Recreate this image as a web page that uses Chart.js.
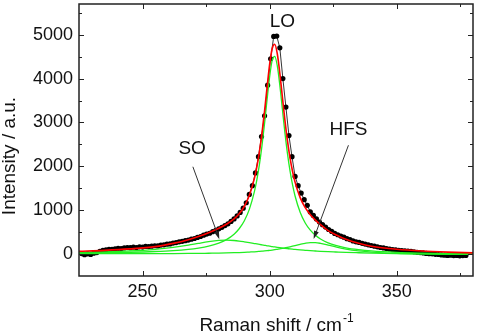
<!DOCTYPE html>
<html>
<head>
<meta charset="utf-8">
<script src="https://cdn.jsdelivr.net/npm/chart.js@4.4.1/dist/chart.umd.min.js"></script>
<style>
    html, body { margin: 0; padding: 0; background: #fff; }
    canvas { display: block; }
</style>
</head>
<body>
<canvas id="ramanChart" width="477" height="333"></canvas>
<script>
// Messpunkte (Raman-Spektrum)
const ramanShift = [
    226.0, 227.2, 228.4, 229.6, 230.8, 232.0, 233.2, 234.4, 235.6, 236.8,
    238.0, 239.2, 240.4, 241.6, 242.8, 244.0, 245.2, 246.4, 247.6, 248.8,
    250.0, 251.2, 252.4, 253.6, 254.8, 256.0, 257.2, 258.4, 259.6, 260.8,
    262.0, 263.2, 264.4, 265.6, 266.8, 268.0, 269.2, 270.4, 271.6, 272.8,
    274.0, 275.2, 276.4, 277.6, 278.8, 280.0, 281.2, 282.4, 283.6, 284.8,
    286.0, 287.2, 288.4, 289.6, 290.8, 292.0, 293.2, 294.4, 295.6, 296.8,
    298.0, 299.2, 300.4, 301.6, 302.8, 304.0, 305.2, 306.4, 307.6, 308.8,
    310.0, 311.2, 312.4, 313.6, 314.8, 316.0, 317.2, 318.4, 319.6, 320.8,
    322.0, 323.2, 324.4, 325.6, 326.8, 328.0, 329.2, 330.4, 331.6, 332.8,
    334.0, 335.2, 336.4, 337.6, 338.8, 340.0, 341.2, 342.4, 343.6, 344.8,
    346.0, 347.2, 348.4, 349.6, 350.8, 352.0, 353.2, 354.4, 355.6, 356.8,
    358.0, 359.2, 360.4, 361.6, 362.8, 364.0, 365.2, 366.4, 367.6, 368.8,
    370.0, 371.2, 372.4, 373.6, 374.8, 376.0, 377.2
];
const intensity = [
    10, -15, 5, -8, 20, 35, 60, 85, 95, 110,
    105, 120, 130, 125, 140, 150, 145, 160, 150, 165,
    160, 175, 170, 180, 190, 185, 205, 210, 225, 230,
    250, 262, 280, 290, 305, 320, 340, 355, 380, 400,
    430, 455, 475, 510, 540, 575, 610, 650, 690, 745,
    800, 870, 950, 1045, 1170, 1360, 1560, 1850, 2220, 2680,
    3150, 3850, 4450, 4960, 4970, 4700, 4000, 3350, 2700, 2220,
    1770, 1560, 1390, 1240, 1110, 960, 880, 800, 730, 670,
    615, 560, 515, 470, 440, 410, 385, 350, 330, 300,
    280, 265, 245, 228, 210, 195, 180, 165, 150, 140,
    125, 112, 100, 95, 85, 80, 72, 68, 60, 52,
    40, 35, 25, 15, 10, 5, -5, -10, -20, -25,
    -30, -25, -35, -30, -40, -35, -30
];

// Fit: Summe und Einzelpeaks (LO, SO, HFS)
const fitShift = [
    225, 235, 245, 255, 262, 268, 272, 276, 280, 283, 286, 288, 290, 292, 294,
    295, 296, 297, 298, 299, 300, 301, 302, 303, 304, 305, 306, 307, 308, 309,
    310, 312, 314, 316, 318, 320, 323, 326, 330, 335, 340, 350, 360, 370, 380
];
const fitSumme = [
    65, 85, 118, 170, 243, 327, 400, 487, 588, 679, 801, 917, 1084, 1335, 1726,
    2000, 2343, 2764, 3261, 3806, 4322, 4687, 4781, 4567, 4125, 3585, 3054, 2586, 2199, 1887,
    1639, 1286, 1057, 898, 775, 671, 536, 440, 335, 245, 180, 110, 70, 45, 28
];
const peakLO = [
    26, 32, 41, 58, 78, 107, 137, 180, 249, 329, 453, 577, 754, 1018, 1422,
    1703, 2051, 2477, 2980, 3528, 4046, 4413, 4507, 4293, 3849, 3306, 2769, 2296, 1901, 1581,
    1324, 953, 709, 544, 428, 344, 256, 197, 143, 101, 73, 40, 22, 10, 2
];
const peakSO = [
    39, 51, 71, 109, 152, 203, 244, 282, 310, 316, 309, 297, 280, 261, 240,
    230, 219, 209, 199, 189, 180, 170, 162, 153, 145, 138, 131, 124, 117, 111,
    106, 95, 86, 77, 70, 63, 54, 47, 38, 30, 23, 12, 5, -1, -5
];
const peakHFS = [
    10, 9, 9, 10, 12, 14, 16, 19, 22, 26, 31, 35, 40, 46, 52,
    56, 61, 66, 71, 77, 84, 91, 99, 108, 117, 128, 140, 152, 165, 179,
    194, 222, 246, 259, 259, 245, 206, 163, 113, 72, 46, 18, 4, -4, -9
];

// Achsen
const xMajor = [250, 300, 350];
const xMinor = [275, 325, 375];
const yMajor = [0, 1000, 2000, 3000, 4000, 5000];
const yMinor = [500, 1500, 2500, 3500, 4500, 5500];

// Beschriftungen der Peaks: [Text, x, y] und Pfeile [x0, y0, x1, y1]
const peakLabels = [["LO", 305, 5300], ["SO", 269.5, 2400], ["HFS", 331, 2830]];
const pfeile = [[269.8, 1990, 280.2, 340], [331, 2480, 317.3, 345]];

const schrift = "'Liberation Sans', Arial, sans-serif";

const punkte = (xs, ys) => xs.map((x, i) => ({ x, y: ys[i] }));

const kurve = (data, farbe, breite, order) => ({
    data,
    borderColor: farbe,
    borderWidth: breite,
    pointRadius: 0,
    fill: false,
    cubicInterpolationMode: 'monotone',
    order
});

// Rahmen, Ticks nach innen, Pfeile und Titel
const rahmenPlugin = {
    id: 'rahmen',
    afterDraw(chart) {
        const { ctx, chartArea: a, scales: { x, y } } = chart;
        ctx.save();
        ctx.strokeStyle = '#222';
        ctx.lineWidth = 1.5;
        ctx.strokeRect(a.left, a.top, a.right - a.left, a.bottom - a.top);

        ctx.lineWidth = 1;
        const xTicks = (vals, len) => vals.forEach(v => {
            const px = Math.round(x.getPixelForValue(v)) + 0.5;
            ctx.beginPath();
            ctx.moveTo(px, a.bottom); ctx.lineTo(px, a.bottom - len);
            ctx.moveTo(px, a.top); ctx.lineTo(px, a.top + len);
            ctx.stroke();
        });
        const yTicks = (vals, len) => vals.forEach(v => {
            const py = Math.round(y.getPixelForValue(v)) + 0.5;
            ctx.beginPath();
            ctx.moveTo(a.left, py); ctx.lineTo(a.left + len, py);
            ctx.moveTo(a.right, py); ctx.lineTo(a.right - len, py);
            ctx.stroke();
        });
        xTicks(xMajor, 5); xTicks(xMinor, 3);
        yTicks(yMajor, 5); yTicks(yMinor, 3);

        // Pfeile zu SO und HFS
        ctx.strokeStyle = '#333';
        ctx.fillStyle = '#222';
        pfeile.forEach(([x0, y0, x1, y1]) => {
            const sx = x.getPixelForValue(x0), sy = y.getPixelForValue(y0);
            const ex = x.getPixelForValue(x1), ey = y.getPixelForValue(y1);
            const w = Math.atan2(ey - sy, ex - sx);
            ctx.beginPath();
            ctx.moveTo(sx, sy); ctx.lineTo(ex - 6 * Math.cos(w), ey - 6 * Math.sin(w));
            ctx.stroke();
            ctx.beginPath();
            ctx.moveTo(ex, ey);
            ctx.lineTo(ex - 8 * Math.cos(w) + 2.5 * Math.sin(w), ey - 8 * Math.sin(w) - 2.5 * Math.cos(w));
            ctx.lineTo(ex - 8 * Math.cos(w) - 2.5 * Math.sin(w), ey - 8 * Math.sin(w) + 2.5 * Math.cos(w));
            ctx.closePath();
            ctx.fill();
        });

        ctx.fillStyle = '#111';
        ctx.font = `19px ${schrift}`;
        ctx.textAlign = 'center';
        ctx.textBaseline = 'middle';
        peakLabels.forEach(([t, lx, ly]) => {
            ctx.fillText(t, x.getPixelForValue(lx), y.getPixelForValue(ly));
        });

        // y-Achsentitel
        ctx.save();
        ctx.translate(a.left - 69, a.top + 152);
        ctx.rotate(-Math.PI / 2);
        ctx.fillText('Intensity / a.u.', 0, 0);
        ctx.restore();

        // x-Achsentitel mit hochgestelltem -1
        const haupt = 'Raman shift / cm';
        const hoch = '-1';
        ctx.font = `19px ${schrift}`;
        const w1 = ctx.measureText(haupt).width;
        ctx.font = `12px ${schrift}`;
        const w2 = ctx.measureText(hoch).width;
        const start = (a.left + a.right) / 2 - (w1 + w2) / 2;
        ctx.textAlign = 'left';
        ctx.textBaseline = 'alphabetic';
        ctx.font = `19px ${schrift}`;
        ctx.fillText(haupt, start, 331);
        ctx.font = `12px ${schrift}`;
        ctx.fillText(hoch, start + w1 + 1, 322);
        ctx.restore();
    }
};

const ctx = document.getElementById('ramanChart').getContext('2d');
new Chart(ctx, {
    type: 'line',
    data: {
        datasets: [
            kurve(punkte(fitShift, fitSumme), '#ff0000', 1.6, 0),
            kurve(punkte(fitShift, peakLO), '#22ee22', 1.3, 1),
            kurve(punkte(fitShift, peakSO), '#22ee22', 1.3, 1),
            kurve(punkte(fitShift, peakHFS), '#22ee22', 1.3, 1),
            {
                data: punkte(ramanShift, intensity),
                borderColor: '#000',
                borderWidth: 0.8,
                pointRadius: 2.6,
                pointBorderWidth: 0,
                pointBackgroundColor: '#000',
                fill: false,
                order: 2
            }
        ]
    },
    options: {
        responsive: false,
        animation: false,
        layout: { padding: { top: 1, right: 2, left: 0, bottom: 0 } },
        plugins: {
            legend: { display: false },
            tooltip: { enabled: false }
        },
        scales: {
            x: {
                type: 'linear',
                min: 225,
                max: 380,
                afterBuildTicks: s => { s.ticks = xMajor.map(v => ({ value: v })); },
                afterFit: s => {
                    s.height = 57;
                    s.paddingLeft = 0;
                    s.paddingRight = 0;
                },
                grid: { display: false, drawTicks: false },
                border: { display: false },
                ticks: {
                    padding: 5,
                    maxRotation: 0,
                    color: '#111',
                    font: { family: schrift, size: 18 },
                    callback: v => String(v)
                }
            },
            y: {
                type: 'linear',
                min: -500,
                max: 5700,
                afterBuildTicks: s => { s.ticks = yMajor.map(v => ({ value: v })); },
                afterFit: s => {
                    s.width = 79;
                    s.paddingTop = 0;
                    s.paddingBottom = 0;
                },
                grid: { display: false, drawTicks: false },
                border: { display: false },
                ticks: {
                    padding: 6,
                    color: '#111',
                    font: { family: schrift, size: 18 },
                    callback: v => String(v)
                }
            }
        }
    },
    plugins: [rahmenPlugin]
});
</script>
</body>
</html>
